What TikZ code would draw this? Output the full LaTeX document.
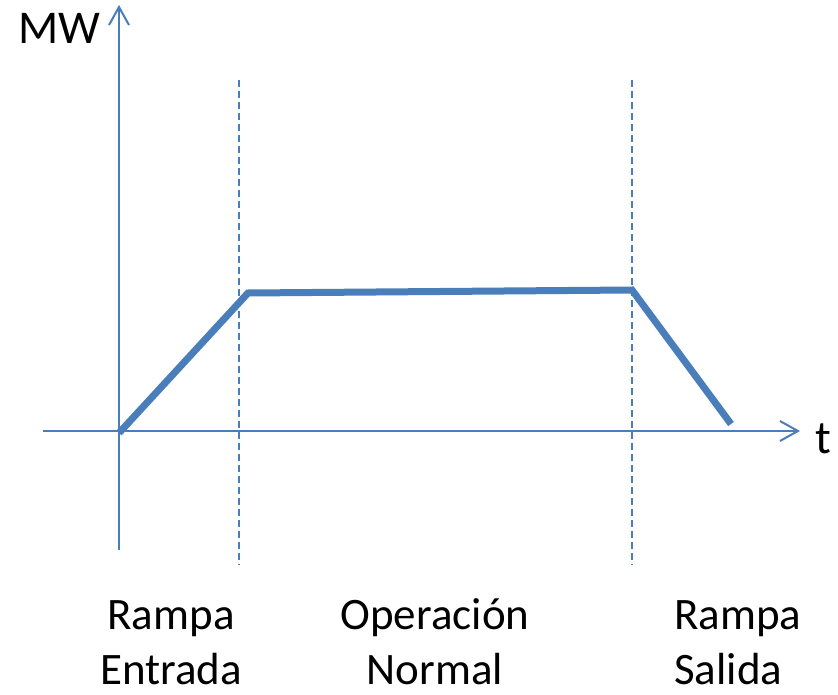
\documentclass[tikz,border=0pt]{standalone}
\usepackage{fontspec}
\setmainfont{Carlito}
\usetikzlibrary{arrows.meta}
\definecolor{axblue}{HTML}{4A7EBB}
\tikzset{
  axis/.style={draw=axblue, line width=2pt, -{Straight Barb[length=18pt,width=20pt,line width=2pt]}},
  guide/.style={draw=axblue, line width=1.5pt, dash pattern=on 7pt off 4pt},
  curve/.style={draw=axblue, line width=7pt, line join=miter},
  lbl/.style={font=\fontsize{45}{55}\selectfont, inner sep=0pt, text=black},
  axlbl/.style={font=\fontsize{47}{56}\selectfont, inner sep=0pt, text=black},
}
\begin{document}
\begin{tikzpicture}[x=1pt,y=-1pt]
\useasboundingbox (0,0) rectangle (838,695);
\coordinate (ys) at (119,550);
\coordinate (ye) at (119,5);
\coordinate (xs) at (43,431);
\coordinate (xe) at (800,431);
\coordinate (d1s) at (239,80);
\coordinate (d1e) at (239,565);
\coordinate (d2s) at (632,80);
\coordinate (d2e) at (632,565);
\coordinate (p0) at (119,433);
\coordinate (p1) at (248,293);
\coordinate (p2) at (632,290);
\coordinate (p3) at (731,424);
\draw[guide] (d1s) -- (d1e);
\draw[guide] (d2s) -- (d2e);
\draw[axis] (ys) -- (ye);
\draw[axis] (xs) -- (xe);
\draw[curve] (p0) -- (p1) -- (p2) -- (p3);
\node[axlbl, anchor=base west] (mw) at (18,44) {MW};
\node[axlbl, anchor=base west] (t) at (815,453) {t};
\node[lbl, anchor=base, align=center] (l1) at (171,684) {Rampa\\Entrada};
\node[lbl, anchor=base, align=center] (l2) at (435,684) {Operación\\Normal};
\node[lbl, anchor=base west, align=left] (l3) at (674,684) {Rampa\\Salida};
\end{tikzpicture}
\end{document}
